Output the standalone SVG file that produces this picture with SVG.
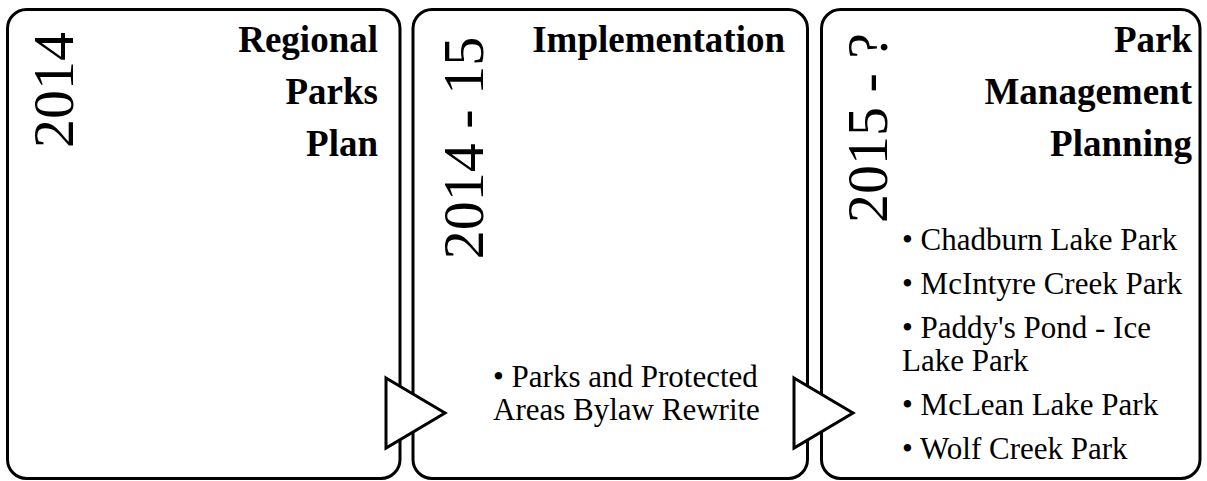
<svg xmlns="http://www.w3.org/2000/svg" width="1207" height="481" viewBox="0 0 1207 481">
<style>
.box{fill:#fff;stroke:#000;stroke-width:3}
.arrow{fill:#fff;stroke:#000;stroke-width:3;stroke-linejoin:miter}
.year{font-family:"Liberation Serif",serif;font-size:58px;fill:#000;text-anchor:middle}
.title{font-family:"Liberation Serif",serif;font-size:37px;font-weight:bold;fill:#000;text-anchor:end}
.item{font-family:"Liberation Serif",serif;font-size:31px;fill:#000}
</style>
<rect width="1207" height="481" fill="#fff"/>
<g id="node-2014">
<rect class="box" x="7.5" y="9.5" width="392.5" height="469" rx="19"/>
<text class="year" transform="translate(73,90) rotate(-90)">2014</text>
<text class="title" x="378" y="52">Regional</text>
<text class="title" x="378" y="104">Parks</text>
<text class="title" x="378" y="156">Plan</text>
</g>
<g id="node-2014-15">
<rect class="box" x="413" y="9.5" width="394.5" height="469" rx="19"/>
<text class="year" transform="translate(483,148) rotate(-90)">2014 - 15</text>
<text class="title" x="785" y="52">Implementation</text>
<text class="item" x="493" y="387">• Parks and Protected</text>
<text class="item" x="493" y="420">Areas Bylaw Rewrite</text>
</g>
<g id="node-2015">
<rect class="box" x="821.5" y="9.5" width="378.5" height="469" rx="19"/>
<text class="year" transform="translate(887,128) rotate(-90)">2015 - ?</text>
<text class="title" x="1192" y="52">Park</text>
<text class="title" x="1192" y="104">Management</text>
<text class="title" x="1192" y="156">Planning</text>
<text class="item" x="902" y="250">• Chadburn Lake Park</text>
<text class="item" x="902" y="294">• McIntyre Creek Park</text>
<text class="item" x="902" y="338">• Paddy's Pond - Ice</text>
<text class="item" x="902" y="371">Lake Park</text>
<text class="item" x="902" y="415">• McLean Lake Park</text>
<text class="item" x="902" y="459">• Wolf Creek Park</text>
</g>
<g id="connectors">
<polygon class="arrow" points="386,378 445,413 386,448"/>
<polygon class="arrow" points="794,378 853,413 794,448"/>
</g>
</svg>
